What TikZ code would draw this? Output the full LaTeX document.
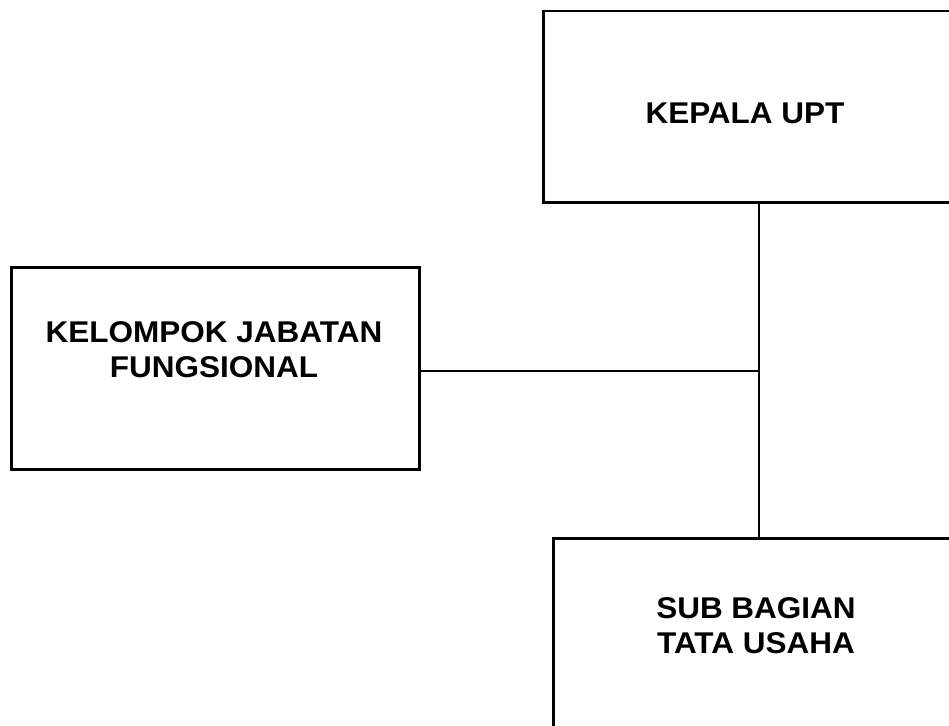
\documentclass[tikz,border=0pt]{standalone}
\usepackage{fontspec}
\setmainfont[FakeStretch=1.05]{Liberation Sans}
\usetikzlibrary{positioning}
\tikzset{unit/.style={draw,line width=2.5pt,anchor=north west},
	tekst/.style={align=center,inner sep=0pt,font=\fontsize{30}{35}\selectfont\bfseries}}

\begin{document}
\begin{tikzpicture}[x=1pt,y=-1pt,line width=2.5pt]
	\useasboundingbox (0,0) rectangle (949,725);
	\clip (0,0) rectangle (949,725);
	% kotak
	\node[unit,minimum width=410,minimum height=191] (kepala) at (542,10) {};
	\node[unit,minimum width=408,minimum height=202] (kelompok) at (10,266) {};
	\node[unit,minimum width=410,minimum height=220] (sub) at (552,537) {};
	% tulisan
	\node[tekst] (kepala-t) at (745,113) {KEPALA UPT};
	\node[tekst] (kelompok-t) at (214,350) {KELOMPOK JABATAN\\FUNGSIONAL};
	\node[tekst] (sub-t) at (756,626) {SUB BAGIAN\\TATA USAHA};
	% garis
	\coordinate (tengah) at (759,371);
	\draw (kepala.south -| tengah) -- (sub.north -| tengah);
	\draw (kelompok.east |- tengah) -- (tengah);
\end{tikzpicture}
\end{document}
